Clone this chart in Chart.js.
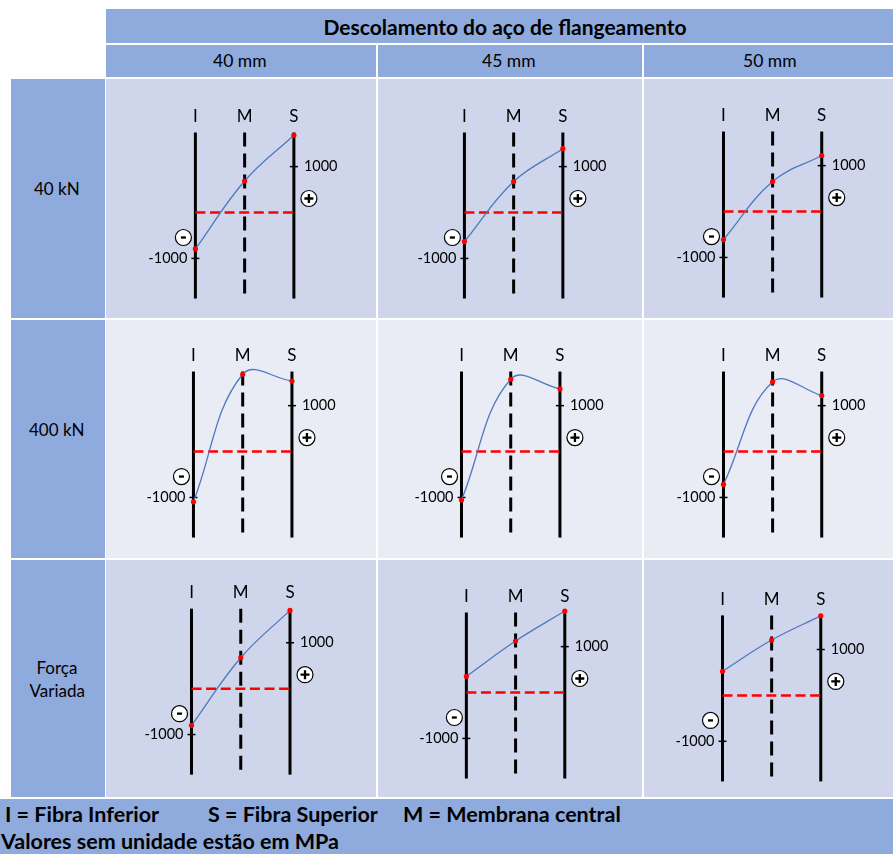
<!DOCTYPE html>
<html>
<head>
<meta charset="utf-8">
<script src="https://cdn.jsdelivr.net/npm/chart.js@4/dist/chart.umd.min.js"></script>
<style>
  html, body { margin: 0; padding: 0; background: #ffffff; }
  #fig { position: relative; width: 893px; height: 854px; overflow: hidden;
         font-family: Lato, "Liberation Sans", sans-serif; color: #000; }
  .blk { position: absolute; }
  .hdr { background: #8faadc; }
  .odd { background: #cfd5ea; }
  .even { background: #e9ebf5; }
  .t { position: absolute; white-space: nowrap; }
  canvas { position: absolute; left: 0; top: 0; }
</style>
</head>
<body>
<div id="fig"></div>
<script>
// ---- data -------------------------------------------------------------
const tituloTabela = 'Descolamento do aço de flangeamento';
const deslocamentos = ['40 mm', '45 mm', '50 mm'];
const forcas = ['40 kN', '400 kN', 'Força Variada'];
const fibras = ['I', 'M', 'S'];
const yTicks = [-1000, 1000];
// Tensões (MPa) nas fibras I, M, S — uma linha por deslocamento (40, 45, 50 mm)
const tensao40kN = [[-794, 686, 1684], [-632, 674, 1390], [-610, 653, 1221]];
const tensao400kN = [[-1095, 1684, 1537], [-1056, 1575, 1367], [-716, 1516, 1221]];
const tensaoForcaVariada = [[-800, 674, 1705], [351, 1122, 1775], [526, 1206, 1733]];
const legendaFibras = ['I = Fibra Inferior', 'S = Fibra Superior', 'M = Membrana central'];
const notaUnidade = 'Valores sem unidade estão em MPa';

// ---- layout -----------------------------------------------------------
const fig = document.getElementById('fig');
const colX = [[106, 376], [378, 642], [644, 893]];
const rowY = [[79, 318], [320, 558], [560, 797]];
const colLabelX = [240, 509, 770];
// pixel position of fibre I and of the zero-stress line in each cell
const cellAnchor = [
  [[194, 213], [463, 213], [722, 212]],
  [[192, 452], [460, 452], [722, 452]],
  [[190, 689], [465, 693], [721, 696]]
];
const PX_PER_FIBRE = 50.75;
const PX_PER_1000 = 47.5;
const FONT = 'Lato, "Liberation Sans", sans-serif';

function box(cls, l, t, w, h) {
  const d = document.createElement('div');
  d.className = 'blk ' + cls;
  Object.assign(d.style, { left: l + 'px', top: t + 'px', width: w + 'px', height: h + 'px' });
  fig.appendChild(d);
  return d;
}
function text(str, cx, cy, size, bold, align) {
  const s = document.createElement('div');
  s.className = 't';
  s.textContent = str;
  Object.assign(s.style, {
    fontSize: size + 'px', fontWeight: bold ? '700' : '400', lineHeight: '1',
    top: (cy - size / 2) + 'px'
  });
  fig.appendChild(s);
  const w = s.offsetWidth;
  s.style.left = (align === 'left' ? cx : cx - w / 2) + 'px';
  return s;
}

// header
box('hdr', 106, 9, 787, 34);
text(tituloTabela, 505, 26, 21, true);
colX.forEach(([a, b], i) => {
  box('hdr', a, 45, b - a, 32);
  text(deslocamentos[i], colLabelX[i], 61, 17.5, false);
});

// row labels
rowY.forEach(([a, b], r) => {
  box('hdr', 11, a, 94, b - a);
  const parts = forcas[r].split(' ');
  if (r === 2) {
    text(parts[0], 57, 667, 17, false);
    text(parts[1], 57, 690, 17, false);
  } else {
    text(forcas[r], 57, (a + b) / 2 - 10, 17, false);
  }
});

// footer
box('hdr', 0, 799, 893, 55);
text(legendaFibras[0], 5, 815, 21.5, true, 'left');
text(legendaFibras[1], 208, 815, 21.5, true, 'left');
text(legendaFibras[2], 403, 815, 21.5, true, 'left');
text(notaUnidade, 1, 842, 21.5, true, 'left');

// ---- stress-profile plugin -----------------------------------------------
const perfil = {
  id: 'perfil',
  beforeDatasetsDraw(chart) {
    const { ctx, scales: { x, y } } = chart;
    const y0 = y.getPixelForValue(0);
    const top = y0 - 80, bot = y0 + 86;
    ctx.save();
    ctx.strokeStyle = '#000';
    ctx.lineWidth = 3;
    ctx.lineCap = 'butt';
    fibras.forEach((f, i) => {
      const px = x.getPixelForValue(i);
      ctx.setLineDash(i === 1 ? [14, 7] : []);
      ctx.beginPath(); ctx.moveTo(px, top); ctx.lineTo(px, bot); ctx.stroke();
    });
    // zero-stress reference
    ctx.setLineDash([10, 4.6]);
    ctx.strokeStyle = '#ff0000';
    ctx.lineWidth = 2.5;
    ctx.beginPath();
    ctx.moveTo(x.getPixelForValue(0), y0);
    ctx.lineTo(x.getPixelForValue(2), y0);
    ctx.stroke();
    // tick marks: -1000 on fibre I, +1000 on fibre S
    ctx.setLineDash([]);
    ctx.strokeStyle = '#000';
    ctx.lineWidth = 1.5;
    yTicks.forEach(v => {
      const px = x.getPixelForValue(v < 0 ? 0 : 2);
      const py = y.getPixelForValue(v);
      ctx.beginPath(); ctx.moveTo(px - 4, py); ctx.lineTo(px + 4, py); ctx.stroke();
    });
    ctx.restore();
  },
  afterDatasetsDraw(chart) {
    const { ctx, scales: { x, y } } = chart;
    const y0 = y.getPixelForValue(0);
    ctx.save();
    ctx.fillStyle = '#000';
    ctx.textBaseline = 'middle';
    ctx.font = '17px ' + FONT;
    ctx.textAlign = 'center';
    fibras.forEach((f, i) => ctx.fillText(f, x.getPixelForValue(i), y0 - 96));
    ctx.font = '14.5px ' + FONT;
    yTicks.forEach(v => {
      const py = y.getPixelForValue(v);
      if (v < 0) {
        ctx.textAlign = 'right';
        ctx.fillText(String(v), x.getPixelForValue(0) - 8, py);
      } else {
        ctx.textAlign = 'left';
        ctx.fillText(String(v), x.getPixelForValue(2) + 10, py);
      }
    });
    // sign markers
    const sign = (cx, cy, plus) => {
      ctx.beginPath();
      ctx.arc(cx, cy, 8, 0, Math.PI * 2);
      ctx.fillStyle = '#fff';
      ctx.fill();
      ctx.lineWidth = 1.2;
      ctx.strokeStyle = '#000';
      ctx.stroke();
      ctx.lineWidth = 2.3;
      ctx.beginPath();
      if (plus) {
        ctx.moveTo(cx - 4.5, cy); ctx.lineTo(cx + 4.5, cy);
        ctx.moveTo(cx, cy - 4.5); ctx.lineTo(cx, cy + 4.5);
      } else {
        ctx.moveTo(cx - 2.5, cy); ctx.lineTo(cx + 2.5, cy);
      }
      ctx.stroke();
    };
    sign(x.getPixelForValue(2) + 15, y0 - 14, true);
    sign(x.getPixelForValue(0) - 12, y0 + 25, false);
    ctx.restore();
  }
};

// ---- one chart per cell -------------------------------------------------
const series = [tensao40kN, tensao400kN, tensaoForcaVariada];
series.forEach((linha, r) => {
  linha.forEach((valores, c) => {
    const [l, rr] = colX[c];
    const [t, b] = rowY[r];
    const cell = box(r === 1 ? 'even' : 'odd', l, t, rr - l, b - t);
    const cv = document.createElement('canvas');
    cv.width = rr - l; cv.height = b - t;
    cell.appendChild(cv);
    const [ix, zy] = cellAnchor[r][c];
    const xMin = (l - ix) / PX_PER_FIBRE, xMax = (rr - ix) / PX_PER_FIBRE;
    const yMax = (zy - t) / PX_PER_1000 * 1000, yMin = -(b - zy) / PX_PER_1000 * 1000;
    new Chart(cv, {
      type: 'scatter',
      data: {
        datasets: [{
          data: fibras.map((f, i) => ({ x: i, y: valores[i] })),
          showLine: true,
          tension: 0.4,
          borderColor: '#4f78c0',
          borderWidth: 1.3,
          pointRadius: 2.6,
          pointBackgroundColor: '#ff0000',
          pointBorderWidth: 0,
          clip: false
        }]
      },
      options: {
        responsive: false,
        animation: false,
        devicePixelRatio: 1,
        layout: { padding: 0 },
        events: [],
        scales: {
          x: { type: 'linear', display: false, min: xMin, max: xMax },
          y: { type: 'linear', display: false, min: yMin, max: yMax }
        },
        plugins: { legend: { display: false }, tooltip: { enabled: false } }
      },
      plugins: [perfil]
    });
  });
});
</script>
</body>
</html>
